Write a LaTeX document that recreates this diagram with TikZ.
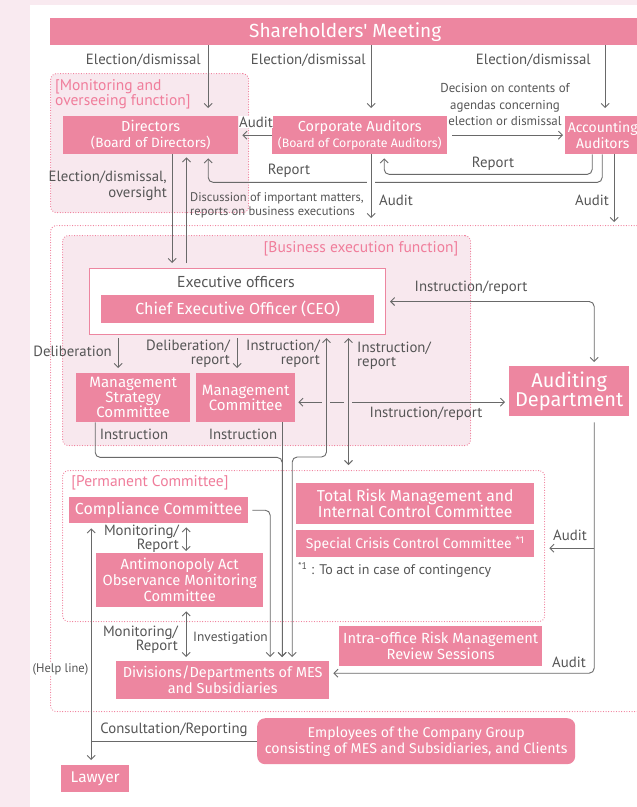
\documentclass[tikz,border=0pt]{standalone}
\usepackage{fontspec}
\setmainfont{PT Sans}
\newfontfamily\boxfont{Fira Sans}
\usetikzlibrary{arrows.meta,calc,positioning}
\definecolor{bgpink}{RGB}{249,234,240}
\definecolor{regfill}{RGB}{248,232,238}
\definecolor{boxpink}{RGB}{237,134,160}
\definecolor{dotpink}{RGB}{240,120,150}
\definecolor{tagpink}{RGB}{240,125,155}
\definecolor{lngray}{RGB}{105,105,105}
\definecolor{txtgray}{RGB}{85,85,85}
\newcommand{\fsz}[2]{\fontsize{#1}{#2}\selectfont}
\newcommand{\subln}[2]{{\fsz{#1}{15}#2}}
\tikzset{
  box/.style    = {fill=boxpink, text=white, align=center, inner sep=0pt, anchor=north west,
                   font=\boxfont\fsz{14.5}{16}},
  region/.style = {draw=dotpink, line width=1.2pt, line cap=round, dash pattern=on 0pt off 2.6pt,
                   rounded corners=6pt, inner sep=0pt, anchor=north west},
  tag/.style    = {text=tagpink, font=\fsz{15.5}{14.5}, align=left, inner sep=0pt},
  lbl/.style    = {text=txtgray, font=\fsz{14.8}{14}, inner sep=0pt},
  tight/.style  = {text=txtgray, font=\fsz{12.5}{13.5}, inner sep=0pt},
  arr/.style    = {-{Straight Barb[length=4pt,width=8pt]}, draw=lngray, line width=0.9pt},
  arrs/.style   = {{Straight Barb[length=4pt,width=8pt]}-{Straight Barb[length=4pt,width=8pt]},
                   draw=lngray, line width=0.9pt},
  gap/.style    = {draw=white, line width=8pt},
}

\begin{document}
\begin{tikzpicture}[x=1pt, y=-1pt]
  \useasboundingbox (0,0) rectangle (637,807);
  \fill[bgpink] (0,0) rectangle (637,807);
  \fill[white] (30,5) rectangle (637,807);

  % regions
  \node[region, fill=regfill, minimum width=198pt, minimum height=139pt] (mon) at (50,73) {};
  \node[region, minimum width=600pt, minimum height=486pt] (biz) at (50,225) {};
  \node[region, fill=regfill, minimum width=408pt, minimum height=210pt] (bex) at (62,235) {};
  \node[region, minimum width=482pt, minimum height=151pt] (perm) at (62,470) {};
  \node[tag, anchor=north west] (tmon) at (55,79) {[Monitoring and\\overseeing function]};
  \node[tag] (tbex) at (361,249) {[Business execution function]};
  \node[tag] (tperm) at (150,483) {[Permanent Committee]};

  % bodies
  \node[box, minimum width=590pt, minimum height=27pt, font=\boxfont\fsz{19}{20}]
    (sh) at (50,18) {Shareholders' Meeting};
  \node[box, minimum width=175pt, minimum height=38pt] (dir) at (63,116)
    {Directors\\\subln{13.5}{(Board of Directors)}};
  \node[box, minimum width=175pt, minimum height=38pt] (ca) at (272,116)
    {Corporate Auditors\\\subln{12.3}{(Board of Corporate Auditors)}};
  \node[box, minimum width=75pt, minimum height=38pt, font=\boxfont\fsz{14}{15.5}]
    (aa) at (565,116) {Accounting\\Auditors};

  \node[anchor=north west, draw=boxpink, line width=1pt, fill=white, inner sep=0pt,
    minimum width=296pt, minimum height=66pt] (exe) at (89,268) {};
  \node[lbl, font=\fsz{15.8}{16}] (exlbl) at (236,282) {Executive officers};
  \node[box, minimum width=273pt, minimum height=28pt, font=\boxfont\fsz{16}{17}]
    (ceo) at (101,295) {Chief Executive Officer (CEO)};
  \node[box, minimum width=114pt, minimum height=49pt, font=\boxfont\fsz{15}{15}]
    (msc) at (76,373) {Management\\Strategy\\Committee};
  \node[box, minimum width=99pt, minimum height=49pt, font=\boxfont\fsz{15}{15}]
    (mc) at (196,373) {Management\\Committee};
  \node[box, minimum width=120pt, minimum height=50pt, font=\boxfont\fsz{20}{17}]
    (ad) at (509,366) {Auditing\\Department};

  \node[box, minimum width=179pt, minimum height=26pt, font=\boxfont\fsz{16}{17}]
    (cc) at (69,497) {Compliance Committee};
  \node[box, minimum width=167pt, minimum height=54pt, font=\boxfont\fsz{14.7}{16}]
    (amc) at (96,553) {Antimonopoly Act\\Observance Monitoring\\Committee};
  \node[box, minimum width=238pt, minimum height=41pt, font=\boxfont\fsz{15.8}{16}] (trm) at (296,483)
    {Total Risk Management and\\Internal Control Committee};
  \node[box, minimum width=238pt, minimum height=27pt, font=\boxfont\fsz{14}{15}] (scc) at (296,530)
    {Special Crisis Control Committee \textsuperscript{*1}};
  \node[tight, anchor=west, font=\fsz{14}{15}] (foot) at (298,570)
    {\textsuperscript{*1} : To act in case of contingency};
  \node[box, minimum width=203pt, minimum height=40pt, font=\boxfont\fsz{14.7}{16}] (iro) at (339,626)
    {Intra-office Risk Management\\Review Sessions};
  \node[box, minimum width=213pt, minimum height=38pt, font=\boxfont\fsz{14.5}{16}] (div) at (116,661)
    {Divisions/Departments of MES\\and Subsidiaries};
  \node[box, minimum width=318pt, minimum height=46pt, rounded corners=8pt, font=\boxfont\fsz{14.2}{16}]
    (emp) at (257,718) {Employees of the Company Group\\consisting of MES and Subsidiaries, and Clients};
  \node[box, minimum width=68pt, minimum height=27pt, font=\boxfont\fsz{15.5}{16}]
    (law) at (61,765) {Lawyer};

  % top connectors
  \draw[arr] ([xshift=57.5pt]dir.north |- sh.south) -- ([xshift=57.5pt,yshift=8pt]dir.north);
  \draw[arr] ([xshift=11.5pt]ca.north |- sh.south) -- ([xshift=11.5pt,yshift=8pt]ca.north);
  \draw[arr] ([xshift=2.5pt]aa.north |- sh.south) -- ([xshift=2.5pt,yshift=8pt]aa.north);
  \draw[arr] (ca.west) -- ([xshift=4pt]dir.east);
  \draw[arr] ([xshift=5pt]ca.east) -- ([xshift=-2pt]aa.west);
  \draw[arr, rounded corners=5pt] ([xshift=-0.5pt]aa.south) -- ++(0,28)
    -| ([xshift=57.5pt,yshift=-4pt]dir.south);
  \draw[arr, rounded corners=5pt] ([xshift=-10.5pt]aa.south) -- ++(0,20)
    -| ([xshift=24.5pt,yshift=-4pt]ca.south);
  \draw[gap] ([xshift=11.5pt,yshift=-23pt]ca.south) -- ++(0,10);
  \draw[arr, shorten >=7pt] ([xshift=11.5pt]ca.south) -- ([xshift=11.5pt]ca.south |- biz.north);
  \draw[arr, shorten >=3pt] ([xshift=11.5pt]aa.south) -- ([xshift=11.5pt]aa.south |- biz.north);
  \draw[arr, shorten >=5pt] ([xshift=21.5pt]dir.south) -- ([xshift=21.5pt]dir.south |- exe.north);
  \draw[arr, shorten <=5pt, shorten >=3pt] ([xshift=-51pt]exe.north) -- ([xshift=-51pt]exe.north |- dir.south);

  % business execution
  \draw[arr, shorten <=3pt, shorten >=5pt] ([xshift=-15pt]msc.north |- exe.south) -- ([xshift=-15pt]msc.north);
  \draw[arr, shorten <=3pt, shorten >=5pt] ([xshift=-8.5pt]mc.north |- exe.south) -- ([xshift=-8.5pt]mc.north);
  \draw[arrs, rounded corners=5pt, shorten <=4pt, shorten >=4pt] (exe.east) -| ([xshift=25pt]ad.north);
  \draw[arrs, shorten <=3pt, shorten >=4pt, dash pattern=on 23pt off 8pt on 14pt off 8pt on 300pt]
    ([yshift=-4.5pt]mc.east) -- ([yshift=-4.5pt]mc.east -| ad.west);
  \draw[arrs, shorten <=3pt, shorten >=5pt] ([xshift=111pt]exe.south) -- ([xshift=111pt]exe.south |- perm.north);
  \draw[arrs, rounded corners=5pt, shorten <=4pt, shorten >=3pt] ([xshift=69.5pt]div.north) -- ++(0,-204)
    -| ([xshift=89pt]exe.south);
  \draw[arr, rounded corners=5pt, shorten >=4pt] ([xshift=-38pt]msc.south) -- ++(0,35)
    -| ([xshift=59.5pt]div.north);
  \draw[arr, shorten >=4pt] ([xshift=36.5pt]mc.south) -- ([xshift=36.5pt]mc.south |- div.north);

  % permanent committee and below
  \draw[arr, rounded corners=5pt, shorten <=4pt, shorten >=4pt] (cc.east) -| ([xshift=47.5pt]div.north);
  \draw[arrs, shorten <=4pt, shorten >=2pt] ([xshift=6.5pt]amc.north |- cc.south) -- ([xshift=6.5pt]amc.north);
  \draw[arrs, shorten <=4pt, shorten >=4pt] ([xshift=6.5pt]amc.south) -- ([xshift=6.5pt]amc.south |- div.north);
  \draw[arr, rounded corners=5pt, shorten <=6pt, shorten >=4pt] ([xshift=25pt]ad.south) |- ([yshift=7pt]div.east);
  \draw[arr, shorten >=15pt] ([xshift=25pt,yshift=-4.5pt]ad.south |- scc.east) -- ([yshift=-4.5pt]scc.east);
  \draw[arr, shorten >=5pt] (emp.west) -| ([xshift=-4pt]law.north);
  \draw[arr, shorten >=5pt] ([xshift=-4pt]law.north |- emp.west) -- ([xshift=-4pt]law.north |- cc.south);

  % labels
  \node[lbl, anchor=east] (led1) at (201,60) {Election/dismissal};
  \node[lbl, anchor=east] (led2) at (366,60) {Election/dismissal};
  \node[lbl, anchor=east] (led3) at (591,60) {Election/dismissal};
  \node[tight, align=center, font=\fsz{12.9}{16.5}] (ldec) at (505,105)
    {Decision on contents of\\agendas concerning\\election or dismissal};
  \node[lbl, fill=white, inner sep=0.5pt] (lau1) at (256,122) {Audit};
  \node[lbl] (lrep1) at (289,171) {Report};
  \node[lbl] (lrep2) at (493,164) {Report};
  \node[lbl, align=right, anchor=east, font=\fsz{14.8}{16}] (ledo) at (167,186)
    {Election/dismissal,\\oversight};
  \node[tight, align=left, anchor=west] (ldisc) at (190,205.5)
    {Discussion of important matters,\\reports on business executions};
  \node[lbl] (lau2) at (396,200) {Audit};
  \node[lbl] (lau3) at (592,200) {Audit};
  \node[lbl, anchor=east] (ldel) at (112,351) {Deliberation};
  \node[lbl, align=right, anchor=east] (ldelr) at (230,353.5) {Deliberation/\\report};
  \node[lbl, align=right, anchor=east] (linr1) at (320,353.5) {Instruction/\\report};
  \node[lbl, align=left, anchor=west] (linr2) at (357,355.5) {Instruction/\\report};
  \node[lbl] (linr3) at (471,288) {Instruction/report};
  \node[lbl] (linr4) at (426,414) {Instruction/report};
  \node[lbl] (lin1) at (134,434) {Instruction};
  \node[lbl] (lin2) at (243,434) {Instruction};
  \node[lbl, align=right, anchor=east] (lmr1) at (179,538.5) {Monitoring/\\Report};
  \node[lbl, align=right, anchor=east] (lmr2) at (178,639.5) {Monitoring/\\Report};
  \node[lbl, anchor=west, font=\fsz{13.4}{14}] (linv) at (193,638) {Investigation};
  \node[lbl] (lau4) at (570,535) {Audit};
  \node[lbl] (lau5) at (569,662) {Audit};
  \node[tight, fill=white, inner sep=1pt] (lhelp) at (60.5,669) {(Help line)};
  \node[lbl] (lcons) at (174,730) {Consultation/Reporting};
\end{tikzpicture}
\end{document}
